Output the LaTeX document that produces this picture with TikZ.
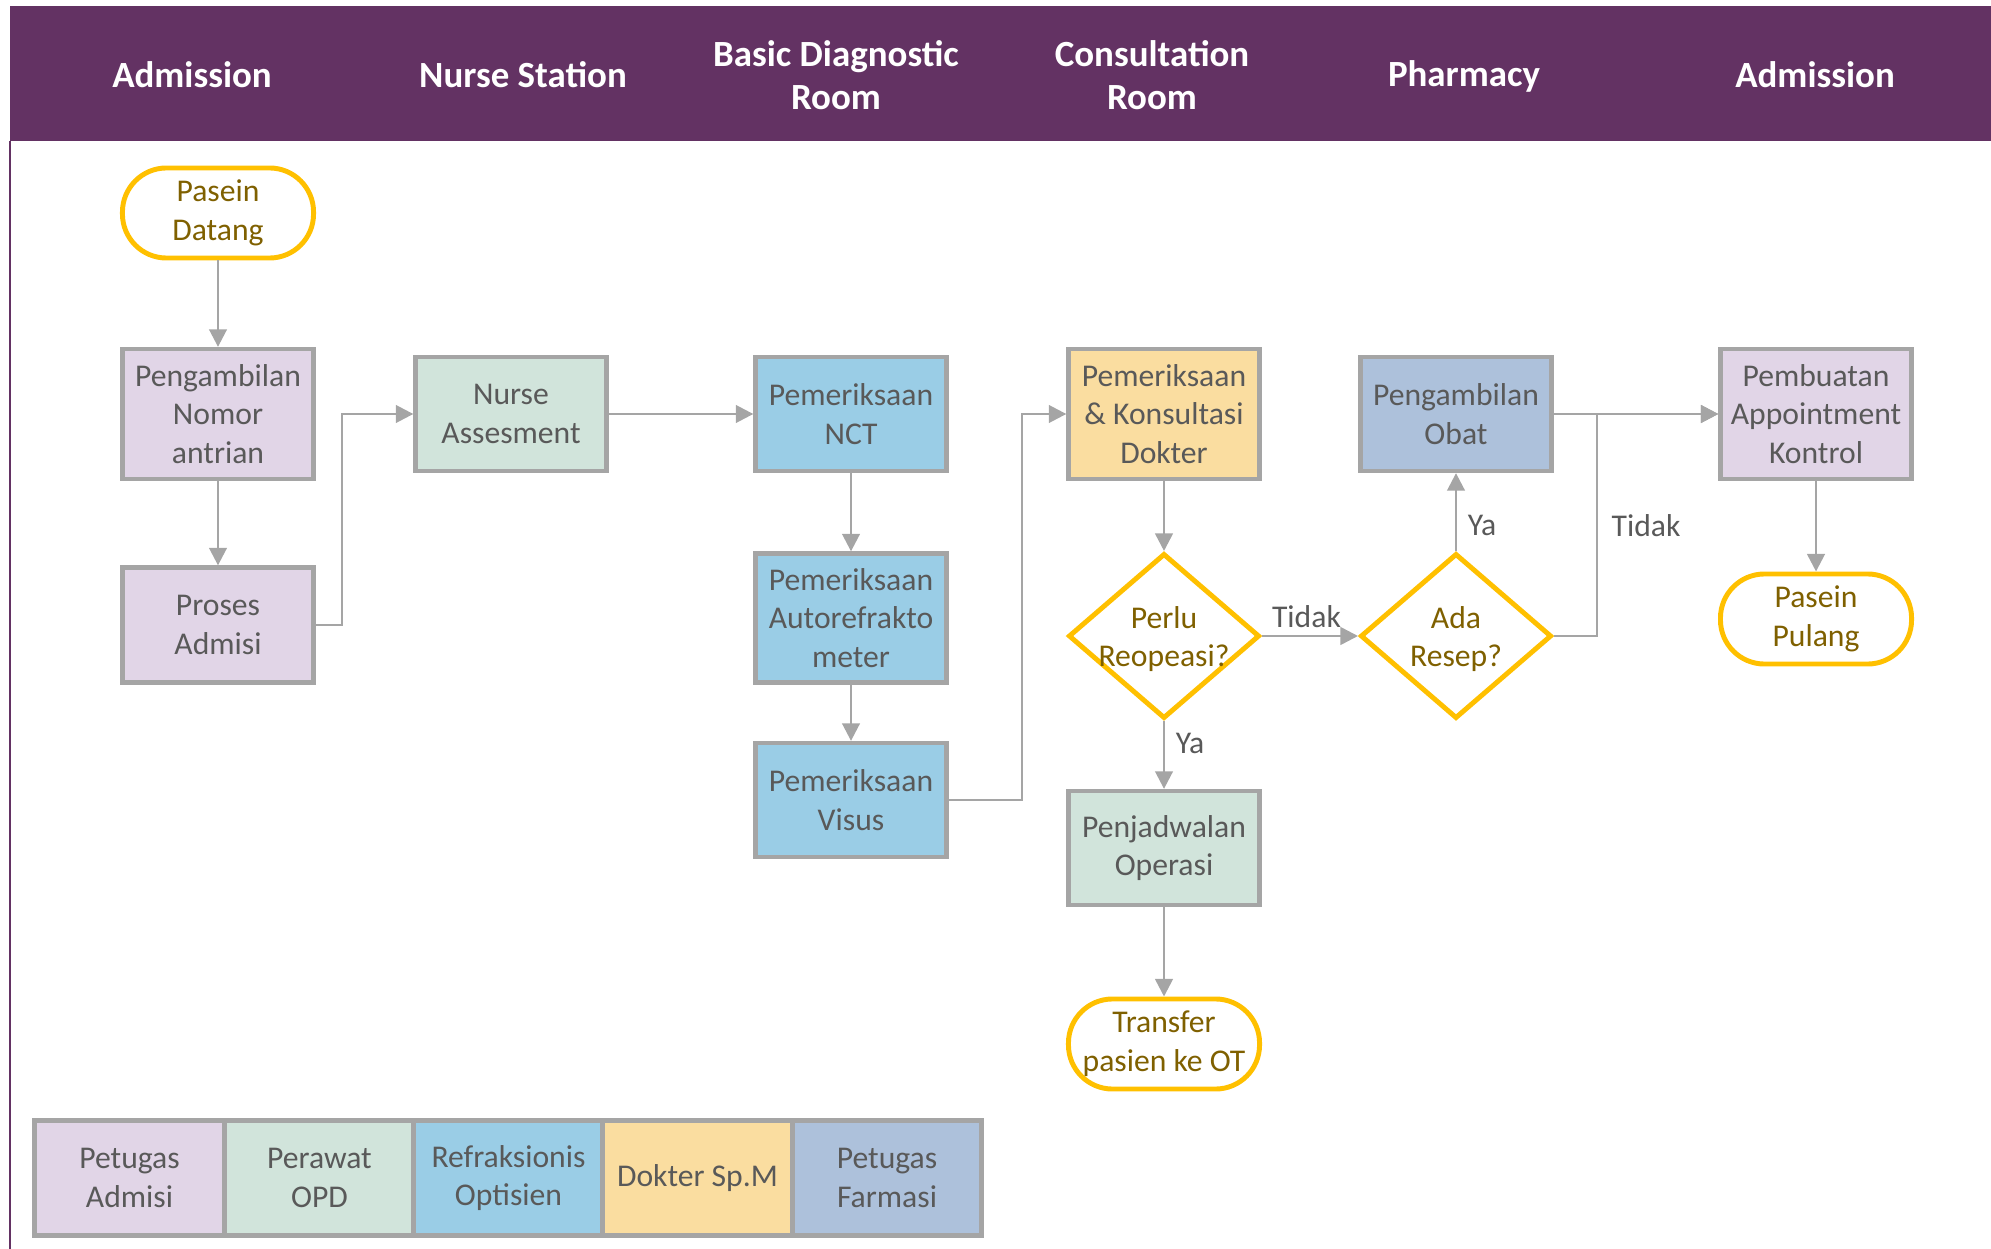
\documentclass[tikz,border=0pt]{standalone}
\usepackage{fontspec}
\setmainfont{Carlito}
\usetikzlibrary{shapes.geometric,arrows.meta}
\definecolor{hdr}{RGB}{99,50,99}
\definecolor{bgray}{RGB}{165,165,165}
\definecolor{lgray}{RGB}{165,165,165}
\definecolor{tgray}{RGB}{89,89,89}
\definecolor{gold}{RGB}{255,192,0}
\definecolor{golddark}{RGB}{127,96,0}
\definecolor{cAdm}{RGB}{225,213,231}
\definecolor{cNur}{RGB}{209,228,219}
\definecolor{cRef}{RGB}{154,205,230}
\definecolor{cDok}{RGB}{250,221,160}
\definecolor{cFar}{RGB}{173,193,219}
\begin{document}
\begin{tikzpicture}[x=0.01cm,y=-0.01cm,
  bodyfont/.style={font=\fontsize{9}{11}\selectfont},
  hdrtxt/.style={text=white, align=center, font=\fontsize{10.5}{12.4}\selectfont\bfseries},
  proc/.style={draw=bgray, line width=1.2pt, minimum width=1.91cm, inner sep=0pt, text=tgray, align=center, bodyfont},
  term/.style={draw=gold, line width=1.4pt, rounded corners=0.44cm, minimum width=1.91cm, minimum height=0.9cm, inner sep=0pt, text=golddark, align=center, bodyfont},
  dec/.style={diamond, draw=gold, line width=1.4pt, minimum width=1.91cm, minimum height=1.65cm, inner sep=0pt},
  dectxt/.style={text=golddark, align=center, bodyfont},
  lbl/.style={text=tgray, bodyfont, inner sep=1pt},
  conn/.style={draw=lgray, line width=0.75pt, -{Triangle[length=5pt,width=5pt]}},
  legend/.style={draw=bgray, line width=1.4pt, minimum width=1.895cm, minimum height=1.15cm, inner sep=0pt, text=tgray, align=center, bodyfont}
]
\useasboundingbox (0,0) rectangle (1991,1249);
% header
\fill[hdr] (10,6) rectangle (1991,141);
\draw[hdr, line width=0.6pt] (10,141) -- (10,1249);
\node[hdrtxt] (h1) at (192,75) {Admission};
\node[hdrtxt] (h2) at (523,75) {Nurse Station};
\node[hdrtxt] (h3) at (836,75) {Basic Diagnostic\\Room};
\node[hdrtxt] (h4) at (1152,75) {Consultation\\Room};
\node[hdrtxt] (h5) at (1464,76) {Pharmacy};
\node[hdrtxt] (h6) at (1815,75) {Admission};
% nodes
\node[term] (start) at (218,213) {Pasein\\Datang};
\node[proc, fill=cAdm, minimum height=1.3cm] (ambil) at (218,414) {Pengambilan\\Nomor\\antrian};
\node[proc, fill=cAdm, minimum height=1.15cm] (admisi) at (218,625) {Proses\\Admisi};
\node[proc, fill=cNur, minimum height=1.14cm] (nurse) at (511,414) {Nurse\\Assesment};
\node[proc, fill=cRef, minimum height=1.14cm] (nct) at (851,414) {Pemeriksaan\\NCT};
\node[proc, fill=cRef, minimum height=1.29cm] (auto) at (851,618) {Pemeriksaan\\Autorefrakto\\meter};
\node[proc, fill=cRef, minimum height=1.14cm] (visus) at (851,800) {Pemeriksaan\\Visus};
\node[proc, fill=cDok, minimum height=1.3cm] (dokter) at (1164,414) {Pemeriksaan\\\& Konsultasi\\Dokter};
\node[dec] (perlu) at (1164,636) {};
\node[dectxt] (perlut) at (1164,639) {Perlu\\Reopeasi?};
\node[proc, fill=cNur, minimum height=1.14cm] (jadwal) at (1164,848) {Penjadwalan\\Operasi};
\node[term] (ot) at (1164,1044) {Transfer\\pasien ke OT};
\node[proc, fill=cFar, minimum height=1.14cm] (obat) at (1456,414) {Pengambilan\\Obat};
\node[dec] (resep) at (1456,636) {};
\node[dectxt] (resept) at (1456,639) {Ada\\Resep?};
\node[proc, fill=cAdm, minimum height=1.3cm] (buat) at (1816,414) {Pembuatan\\Appointment\\Kontrol};
\node[term] (pulang) at (1816,619) {Pasein\\Pulang};
% connectors
\draw[conn] (start) -- (ambil);
\draw[conn] (ambil) -- (admisi);
\draw[conn] (admisi.east) -- (342,625) |- (nurse.west);
\draw[conn] (nurse) -- (nct);
\draw[conn] (nct) -- (auto);
\draw[conn] (auto) -- (visus);
\draw[conn] (visus.east) -- (1022,800) |- (dokter.west);
\draw[conn] (dokter) -- (perlu.north);
\draw[conn] (perlu.east) -- node[lbl, above, inner sep=2pt, xshift=-1pt] (t1) {Tidak} (resep.west);
\draw[conn] (perlu.south) -- node[lbl, right, pos=0.33, inner sep=3pt] (y1) {Ya} (jadwal.north);
\draw[conn] (jadwal) -- (ot);
\draw[conn] (resep.north) -- node[lbl, right, pos=0.33, inner sep=3pt] (y2) {Ya} (obat.south);
\draw[conn] (obat) -- (buat);
\draw[conn] (resep.east) -- (1597,636) |- (buat.west);
\node[lbl] (t2) at (1646,526) {Tidak};
\draw[conn] (buat) -- (pulang);
% legend
\node[legend, fill=cAdm] (l1) at (129.5,1178) {Petugas\\Admisi};
\node[legend, fill=cNur] (l2) at (319.5,1178) {Perawat\\OPD};
\node[legend, fill=cRef] (l3) at (508.5,1178) {Refraksionis\\Optisien};
\node[legend, fill=cDok] (l4) at (697.5,1178) {Dokter Sp.M};
\node[legend, fill=cFar] (l5) at (887,1178) {Petugas\\Farmasi};
\end{tikzpicture}
\end{document}
